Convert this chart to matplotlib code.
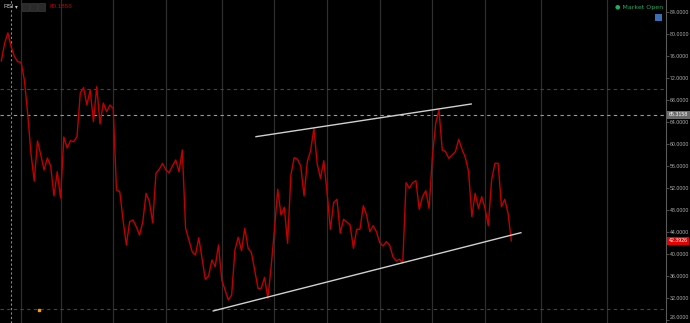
import matplotlib
matplotlib.use("Agg")
import matplotlib.pyplot as plt
import numpy as np
from matplotlib.patches import Rectangle

# ---- data ----
rsi = [75.09, 78.31, 80.2, 77.69, 75.87, 74.96, 74.85, 71.64, 65.64, 58.36,
       53.27, 60.55, 58.0, 55.27, 57.45, 56.0, 50.55, 54.96, 50.18, 61.27,
       59.27, 60.6, 60.42, 61.33, 69.27, 70.24, 67.09, 69.82, 64.05, 70.42,
       63.64, 67.45, 65.87, 67.09, 66.49, 51.64, 51.33, 46.18, 41.64, 45.87,
       46.18, 44.96, 43.45, 45.87, 51.04, 49.51, 45.69, 54.67, 55.4, 56.49,
       55.27, 54.78, 56.0, 57.09, 54.96, 58.91, 44.67, 42.55, 40.42, 39.82,
       42.96, 39.22, 35.4, 36.0, 38.91, 37.69, 41.64, 35.27, 33.45, 31.64,
       32.55, 40.73, 43.04, 40.6, 44.67, 41.04, 40.24, 37.09, 33.76, 33.76,
       35.76, 31.95, 37.69, 44.36, 51.76, 47.09, 48.49, 41.95, 54.36, 57.51,
       57.22, 56.0, 50.55, 56.78, 58.78, 62.85, 56.36, 53.76, 56.96, 51.15,
       44.49, 49.33, 49.95, 43.76, 46.31, 45.82, 45.27, 41.04, 44.49, 44.49,
       48.78, 47.09, 44.05, 45.15, 44.05, 42.05, 41.45, 42.24, 41.64, 39.51,
       38.73, 39.04, 38.42, 52.96, 51.95, 52.96, 53.33, 48.13, 50.42, 51.51,
       48.31, 57.69, 63.76, 66.18, 58.91, 58.6, 57.4, 58.0, 58.6, 60.85,
       59.04, 57.58, 54.96, 46.78, 51.04, 48.31, 50.42, 48.31, 45.15, 53.45,
       56.49, 56.49, 48.6, 49.95, 47.4, 42.3926]

upper_trend_x = [77.4, 142.8]
upper_trend_y = [61.33, 67.27]
lower_trend_x = [64.4, 157.9]
lower_trend_y = [29.64, 43.87]

vgrid_x = [6, 18, 34, 50, 67, 83, 99, 115, 131, 147, 164, 184]
vdash_x = 3
level_lines = [70, 30]
crosshair_value = 65.3158
last_value = 42.3926
header_value = "80.1856"
yticks = list(range(32, 85, 4)) + [28]

# ---- figure ----
W, H = 690, 323
fig = plt.figure(figsize=(W / 100, H / 100), dpi=100, facecolor="#000000")
ax = fig.add_axes([0, 0, 666 / W, 1])
ax.set_facecolor("#000000")

x = np.arange(len(rsi))
ax.set_xlim(-0.4, 202)
ax.set_ylim(27.45, 86.18)

for gx in vgrid_x:
    ax.axvline(gx, color="#2e2e2e", lw=0.9, zorder=1)
ax.axvline(vdash_x, color="#8a8a8a", lw=0.8, ls=(0, (2, 2)), zorder=1)
for lv in level_lines:
    ax.axhline(lv, color="#444444", lw=0.8, ls=(0, (3, 3)), zorder=1)
ax.axhline(crosshair_value, color="#9a9a9a", lw=0.8, ls=(0, (3, 3)), zorder=2)

ax.plot(x, rsi, color="#bf0000", lw=1.0, zorder=3)
ax.plot(upper_trend_x, upper_trend_y, color="#d0d0d0", lw=1.0, zorder=4)
ax.plot(lower_trend_x, lower_trend_y, color="#d0d0d0", lw=1.0, zorder=4)

# small orange marker near bottom left
ax.plot([11.4], [29.9], marker="s", ms=1.5, color="#ff9900", zorder=4)

# axes styling
for s in ["top", "left", "bottom"]:
    ax.spines[s].set_visible(False)
ax.spines["right"].set_color("#5a5a5a")
ax.spines["right"].set_linewidth(0.8)
ax.set_xticks([])
ax.yaxis.tick_right()
ax.set_yticks(yticks)
ax.set_yticklabels([f"{v:.4f}" for v in yticks])
ax.tick_params(axis="y", colors="#5a5a5a", labelcolor="#b0b0b0", length=2,
               width=0.6, pad=0.8, labelsize=3.8)
for lab in ax.get_yticklabels():
    lab.set_family("Liberation Sans")
    if lab.get_text() == "28.0000":
        lab.set_va("bottom")

# value labels on the axis
yt = ax.get_yaxis_transform()
ax.text(1.004, crosshair_value, f"{crosshair_value:.4f}", transform=yt,
        fontsize=3.8, family="Liberation Sans", color="#ffffff", va="center",
        ha="left", bbox=dict(boxstyle="square,pad=0.3", fc="#6a6a6a", ec="none"),
        clip_on=False, zorder=10)
ax.text(1.004, last_value, f"{last_value:.4f}", transform=yt,
        fontsize=3.8, family="Liberation Sans", color="#ffffff", va="center",
        ha="left", bbox=dict(boxstyle="square,pad=0.3", fc="#e60000", ec="none"),
        clip_on=False, zorder=10)

# header widgets
fig.text(3 / W, 1 - 7 / H, "RSI", fontsize=4.5, color="#c8c8c8", va="center",
         ha="left", family="Liberation Sans")
fig.text(15 / W, 1 - 7 / H, "▾", fontsize=4, color="#c8c8c8", va="center",
         ha="left", family="DejaVu Sans")
for bx in [22, 30, 38]:
    fig.add_artist(Rectangle((bx / W, 1 - 11 / H), 7 / W, 8 / H,
                             transform=fig.transFigure, fc="#2a2a2a",
                             ec="#444444", lw=0.4))
fig.text(50 / W, 1 - 7 / H, header_value, fontsize=4.5, color="#d00000",
         va="center", ha="left", family="Liberation Sans")
fig.text(663 / W, 1 - 8 / H, "● Market Open", fontsize=4.5, color="#1fae63",
         va="center", ha="right", family="DejaVu Sans")
fig.add_artist(Rectangle((655 / W, 1 - 21 / H), 7 / W, 7 / H,
                         transform=fig.transFigure, fc="#3a6fb5", ec="none"))

fig.savefig("out.png", dpi=100, facecolor="#000000")
